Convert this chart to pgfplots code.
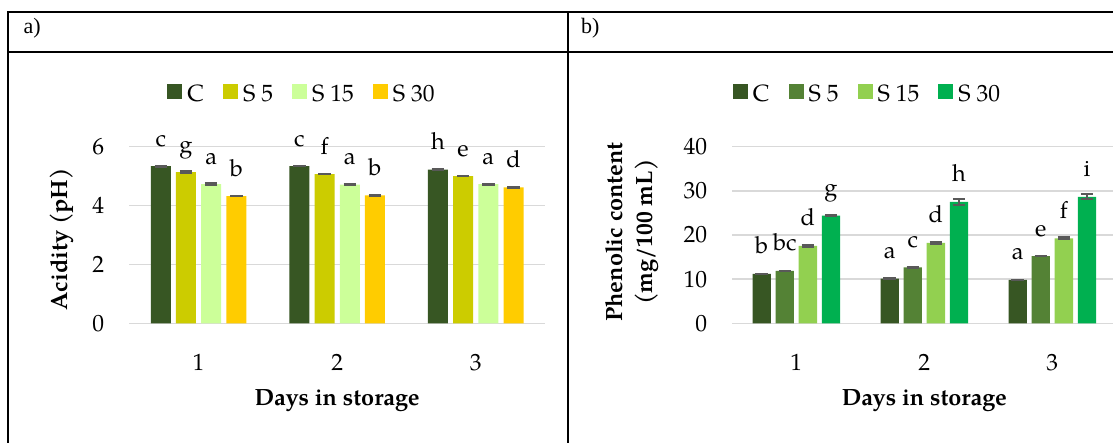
\documentclass[border=0pt]{standalone}
\usepackage{pgfplots}
\pgfplotsset{compat=1.18}
\usepackage{pgfplotstable}
\usepackage{fontspec}
\setmainfont{TeX Gyre Pagella}
\newfontfamily\timesfont{Liberation Serif}
\newcommand{\fs}{\fontsize{23.5}{27}\selectfont}
\definecolor{cA1}{HTML}{375623}
\definecolor{cA2}{HTML}{CCCC00}
\definecolor{cA3}{HTML}{CCFF99}
\definecolor{cA4}{HTML}{FFCC00}
\definecolor{cB1}{HTML}{375623}
\definecolor{cB2}{HTML}{548235}
\definecolor{cB3}{HTML}{92D050}
\definecolor{cB4}{HTML}{00B050}
\definecolor{gridc}{HTML}{D9D9D9}
\definecolor{errc}{HTML}{595959}

\pgfplotstableread{
x c ce cl s5 s5e s5l s15 s15e s15l s30 s30e s30l
1 5.34 0.02 c 5.14 0.02 g 4.73 0.035 a 4.32 0.01 b
2 5.34 0.01 c 5.07 0.01 f 4.71 0.01 a 4.35 0.01 b
3 5.22 0.01 h 5.00 0.01 e 4.73 0.015 a 4.62 0.01 d
}\dataA

\pgfplotstableread{
x c ce cl s5 s5e s5l s15 s15e s15l s30 s30e s30l
1 11.17 0.03 b 11.85 0.08 bc 17.51 0.15 d 24.37 0.11 g
2 10.10 0.11 a 12.68 0.08 c 18.19 0.19 d 27.52 0.68 h
3 9.81 0.08 a 15.24 0.08 e 19.25 0.23 f 28.61 0.57 i
}\dataB

\pgfplotsset{
 mybase/.style={
  scale only axis,
  xmin=0.5, xmax=3.5, ymin=0,
  xtick={1,2,3},
  axis line style={draw=none}, tick style={draw=none},
  ymajorgrids, grid style={color=gridc, line width=1.5pt},
  ybar,
  /pgf/number format/assume math mode=true,
  ticklabel style={font=\fs},
  xticklabel style={anchor=base, yshift=-43pt, inner sep=0pt},
  yticklabel style={anchor=east, inner sep=0pt, xshift=-25pt},
  nodes near coords, point meta=explicit symbolic,
  every node near coord/.append style={anchor=base, yshift=20pt, inner sep=0pt, font=\fs, text=black},
  legend columns=4,
  legend style={draw=none, fill=none, inner sep=0pt, font=\fs, anchor=center,
    at={(axis description cs:#1,1.302)}, nodes={inner sep=0pt},
    /tikz/every odd column/.append style={column sep=5pt},
    /tikz/every even column/.append style={column sep=19pt}},
  legend image code/.code={\fill[##1] (0pt,-5.25pt) rectangle (15pt,9.75pt);},
  every axis x label/.style={at={(axis description cs:0.5,0)}, anchor=base, yshift=-82pt, inner sep=0pt, font=\fs\bfseries},
  error bars/y dir=both, error bars/y explicit,
  error bars/error bar style={color=errc, line width=1.5pt},
  error bars/error mark options={rotate=90, mark size=6.2pt, line width=2pt, color=errc},
  clip=false,
 }
}

\begin{document}
\begin{tikzpicture}
\useasboundingbox (0pt,0pt) rectangle (1113pt,443pt);
\clip (0pt,0pt) rectangle (1113pt,443pt);
\fill[white] (0pt,0pt) rectangle (1113pt,443pt);
\draw[line width=2pt] (8pt,0pt) -- (8pt,431pt) -- (1115pt,431pt);
\draw[line width=2pt] (8pt,391.3pt) -- (1115pt,391.3pt);
\draw[line width=2pt] (567.7pt,0pt) -- (567.7pt,431pt);
\node[anchor=base west, inner sep=0pt, font=\timesfont\fontsize{22}{25}\selectfont] at (23.3pt,409pt) {a)};
\node[anchor=base west, inner sep=0pt, font=\timesfont\fontsize{22}{25}\selectfont] at (581pt,409pt) {b)};

\begin{axis}[mybase=0.413, at={(129.3pt,119.7pt)}, anchor=south west, width=415.7pt, height=176.6pt,
  ymax=6, ytick={0,2,4,6}, bar width=20pt,
  xlabel={Days in storage}, ylabel={Acidity (pH)},
  every axis y label/.style={at={(axis description cs:-0.1487,0.477)}, rotate=90, anchor=base, inner sep=0pt, font=\fs\bfseries}]
\addplot[fill=cA1, draw=none, bar shift=-37.8pt] table[x=x, y=c, y error=ce, meta=cl]{\dataA};
\addplot[fill=cA2, draw=none, bar shift=-12.6pt] table[x=x, y=s5, y error=s5e, meta=s5l]{\dataA};
\addplot[fill=cA3, draw=none, bar shift=12.6pt] table[x=x, y=s15, y error=s15e, meta=s15l]{\dataA};
\addplot[fill=cA4, draw=none, bar shift=37.8pt] table[x=x, y=s30, y error=s30e, meta=s30l]{\dataA};
\legend{C, S 5, S 15, S 30}
\end{axis}

\begin{axis}[mybase=0.3495, at={(732.3pt,119.7pt)}, anchor=south west, width=384pt, height=176.6pt,
  ymax=40, ytick={0,10,20,30,40}, bar width=18.3pt,
  xlabel={Days in storage}, ylabel={Phenolic content\\(mg/100 mL)},
  every axis y label/.style={at={(axis description cs:-0.2612,0.517)}, rotate=90, anchor=center, align=center, inner sep=0pt, font=\fontsize{23.5}{29.5}\selectfont\bfseries}]
\addplot[fill=cB1, draw=none, bar shift=-34.65pt] table[x=x, y=c, y error=ce, meta=cl]{\dataB};
\addplot[fill=cB2, draw=none, bar shift=-11.55pt] table[x=x, y=s5, y error=s5e, meta=s5l]{\dataB};
\addplot[fill=cB3, draw=none, bar shift=11.55pt] table[x=x, y=s15, y error=s15e, meta=s15l]{\dataB};
\addplot[fill=cB4, draw=none, bar shift=34.65pt] table[x=x, y=s30, y error=s30e, meta=s30l]{\dataB};
\legend{C, S 5, S 15, S 30}
\end{axis}
\end{tikzpicture}
\end{document}
